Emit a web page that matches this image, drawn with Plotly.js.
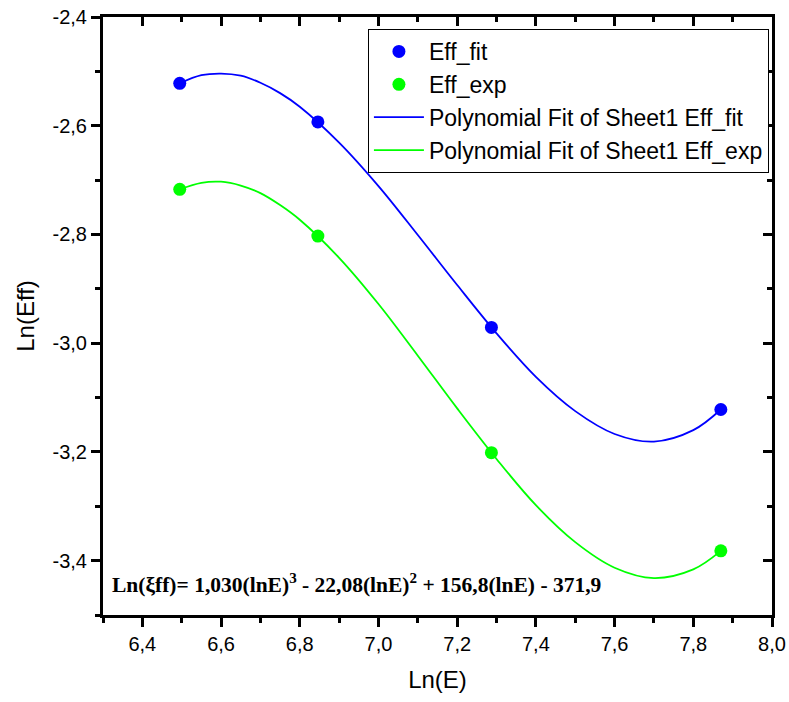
<!DOCTYPE html>
<html>
<head>
<meta charset="utf-8">
<script src="https://cdn.plot.ly/plotly-3.0.1.min.js"></script>
<style>html,body{margin:0;padding:0;background:#fff;}#chart{width:789px;height:702px;}</style>
</head>
<body>
<div id="chart"></div>
<script>
// measured points
const lnE = [6.495, 6.846, 7.287, 7.870];
const effFit = [-2.522, -2.593, -2.971, -3.122];
const effExp = [-2.717, -2.803, -3.2015, -3.382];
// fitted curves
const curveX = [6.495, 6.55, 6.6, 6.65, 6.7, 6.75, 6.8, 6.9, 7.0, 7.1, 7.2, 7.3, 7.4, 7.5, 7.6, 7.7, 7.8, 7.87];
const curveFit = [-2.522, -2.507, -2.504, -2.508, -2.521, -2.540, -2.565, -2.631, -2.711, -2.801, -2.893, -2.982, -3.062, -3.125, -3.167, -3.181, -3.160, -3.122];
const curveExp = [-2.717, -2.705, -2.703, -2.710, -2.724, -2.746, -2.773, -2.843, -2.928, -3.023, -3.120, -3.213, -3.298, -3.366, -3.413, -3.432, -3.416, -3.382];
// y tick labels (hyphen minus, comma decimal)
const yTickVals = [-3.4, -3.2, -3.0, -2.8, -2.6, -2.4];
const yTickText = ['-3,4', '-3,2', '-3,0', '-2,8', '-2,6', '-2,4'];
const names = ['Eff_fit', 'Eff_exp', 'Polynomial Fit of Sheet1 Eff_fit', 'Polynomial Fit of Sheet1 Eff_exp'];
const eqText = 'Ln(ξff)= 1,030(lnE)<sup>3</sup> - 22,08(lnE)<sup>2</sup> + 156,8(lnE) - 371,9';

const traces = [
  {x: curveX, y: curveFit, mode: 'lines', name: names[2], line: {color: '#0000ff', width: 1.8, shape: 'spline'}, showlegend: false},
  {x: curveX, y: curveExp, mode: 'lines', name: names[3], line: {color: '#00ff00', width: 1.8, shape: 'spline'}, showlegend: false},
  {x: lnE, y: effFit, mode: 'markers', name: names[0], marker: {color: '#0000ff', size: 13}},
  {x: lnE, y: effExp, mode: 'markers', name: names[1], marker: {color: '#00ff00', size: 13}},
  {x: [null], y: [null], mode: 'lines', name: names[2], line: {color: '#0000ff', width: 1.8}},
  {x: [null], y: [null], mode: 'lines', name: names[3], line: {color: '#00ff00', width: 1.8}},
  {x: [null], y: [null], xaxis: 'x2', yaxis: 'y2', mode: 'markers', showlegend: false, hoverinfo: 'skip'}
];

const tickFont = {family: 'Liberation Sans, Arial, sans-serif', size: 20, color: '#000'};
const layout = {
  width: 789, height: 702,
  margin: {l: 103, r: 17, t: 17, b: 87},
  paper_bgcolor: '#fff', plot_bgcolor: '#fff',
  separators: ', ',
  showlegend: true,
  xaxis: {
    range: [6.3, 8.0], dtick: 0.2, tick0: 0, tickformat: '.1f',
    showgrid: false, zeroline: false, showline: true, linecolor: '#000', linewidth: 3,
    ticks: 'outside', ticklen: 9, tickwidth: 3, tickcolor: '#000',
    minor: {dtick: 0.1, tick0: 0, ticks: 'outside', ticklen: 5, tickwidth: 3, tickcolor: '#000'},
    tickfont: tickFont,
    title: {text: 'Ln(E)', font: {family: 'Liberation Sans, Arial, sans-serif', size: 24, color: '#000'}, standoff: 18}
  },
  yaxis: {
    range: [-3.5, -2.4], tickmode: 'array', tickvals: yTickVals, ticktext: yTickText,
    showgrid: false, zeroline: false, showline: true, linecolor: '#000', linewidth: 3,
    ticks: 'outside', ticklen: 9, tickwidth: 3, tickcolor: '#000',
    minor: {dtick: 0.1, tick0: 0, ticks: 'outside', ticklen: 5, tickwidth: 3, tickcolor: '#000'},
    tickfont: tickFont,
    title: {text: 'Ln(Eff)', font: {family: 'Liberation Sans, Arial, sans-serif', size: 24, color: '#000'}, standoff: 12}
  },
  xaxis2: {
    overlaying: 'x', side: 'top', anchor: 'y2',
    range: [6.3, 8.0], dtick: 0.2, tick0: 0,
    showgrid: false, zeroline: false, showline: true, linecolor: '#000', linewidth: 3,
    ticks: 'inside', ticklen: 9, tickwidth: 3, tickcolor: '#000',
    minor: {dtick: 0.1, tick0: 0, ticks: 'inside', ticklen: 5, tickwidth: 3, tickcolor: '#000'},
    showticklabels: false
  },
  yaxis2: {
    overlaying: 'y', side: 'right', anchor: 'x2',
    range: [-3.5, -2.4], dtick: 0.2, tick0: 0,
    showgrid: false, zeroline: false, showline: true, linecolor: '#000', linewidth: 3,
    ticks: 'inside', ticklen: 9, tickwidth: 3, tickcolor: '#000',
    minor: {dtick: 0.1, tick0: 0, ticks: 'inside', ticklen: 5, tickwidth: 3, tickcolor: '#000'},
    showticklabels: false
  },
  legend: {
    x: 0.396, y: 0.98, xanchor: 'left', yanchor: 'top',
    bgcolor: '#fff', bordercolor: '#000', borderwidth: 1,
    font: {family: 'Liberation Sans, Arial, sans-serif', size: 23, color: '#000'},
    itemwidth: 50, tracegroupgap: 0
  },
  annotations: [{
    xref: 'paper', yref: 'paper', x: 0.01, y: 0.052, xanchor: 'left', yanchor: 'middle',
    text: eqText, showarrow: false,
    font: {family: 'Liberation Serif, Times New Roman, serif', size: 21.5, color: '#000', weight: 'bold'}
  }]
};

Plotly.newPlot('chart', traces, layout, {displayModeBar: false, staticPlot: true});
</script>
</body>
</html>
